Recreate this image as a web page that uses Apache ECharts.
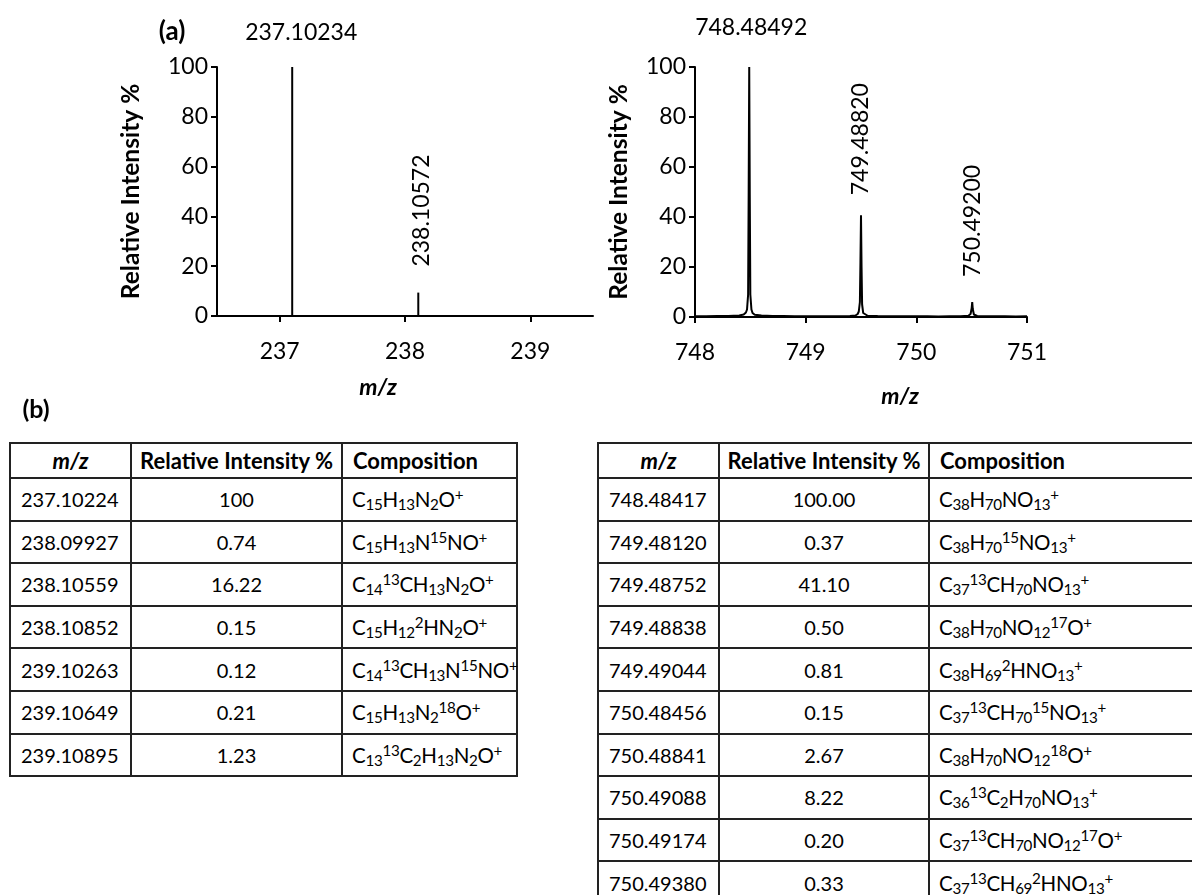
<!DOCTYPE html>
<html>
<head>
<meta charset="utf-8">
<script src="https://cdn.jsdelivr.net/npm/echarts@6/dist/echarts.min.js"></script>
<style>
  html, body { margin: 0; padding: 0; background: #fff; width: 1192px; height: 895px; overflow: hidden; font-family: Lato, sans-serif; }
  #chart { position: absolute; left: 0; top: 0; width: 1192px; height: 430px; }
  table.iso { position: absolute; top: 442px; border-collapse: collapse; table-layout: fixed; font-size: 20px; color: #000; }
  table.iso td, table.iso th { border: 2px solid #222; padding: 0 0 0 10px; white-space: nowrap; overflow: visible; text-align: left; }
  table.iso th { font-size: 22px; }
  table.iso td.c3 { font-size: 20.5px; padding-left: 9px; letter-spacing: -0.3px; }
  table.iso .c2 { text-align: center; padding: 0; }
  table.iso th.c1 { text-align: center; padding: 0; }
  table.iso tr.h { height: 35px; }
  table.iso tr.d { height: 42.6px; }
  table.iso sub { font-size: 0.74em; vertical-align: -0.2em; line-height: 0; }
  table.iso sup { font-size: 0.74em; vertical-align: 0.45em; line-height: 0; }
  #t1 { left: 9px; width: 507px; }
  #t2 { left: 597px; width: 620px; }
</style>
</head>
<body>
<div id="chart"></div>
<table id="t1" class="iso"><colgroup><col style="width:121px"><col style="width:211px"><col style="width:175px"></colgroup><tbody></tbody></table>
<table id="t2" class="iso"><colgroup><col style="width:121px"><col style="width:210px"><col style="width:289px"></colgroup><tbody></tbody></table>
<script>
// (a) 左：棒状谱
var leftTicks = [237, 238, 239]
var leftPeakMz = [237.10, 238.106]
var leftPeakInt = [100, 9.4]
var leftPeakLabel = ['237.10234', '238.10572']

// (a) 右：轮廓谱
var rightProfileMz = [748.00, 748.10, 748.20, 748.30, 748.40, 748.44, 748.46, 748.47, 748.48, 748.485,
  748.49, 748.495, 748.50, 748.51, 748.52, 748.54, 748.60, 748.70, 748.80, 748.90,
  749.00, 749.10, 749.20, 749.30, 749.40, 749.45, 749.47, 749.48, 749.49, 749.495,
  749.50, 749.505, 749.51, 749.52, 749.53, 749.56, 749.65, 749.80, 749.90, 750.00,
  750.10, 750.20, 750.30, 750.40, 750.47, 750.49, 750.50, 750.505, 750.51, 750.52,
  750.55, 750.65, 750.80, 750.90, 751.00]
var rightProfileInt = [0.3, 0.3, 0.4, 0.4, 0.6, 1.0, 1.8, 3.0, 9, 50,
  100, 48, 9, 3.0, 1.6, 0.9, 0.6, 0.4, 0.4, 0.3,
  0.3, 0.3, 0.3, 0.3, 0.4, 0.6, 1.2, 2.2, 6, 22,
  40.7, 20, 5, 1.6, 0.9, 0.5, 0.4, 0.3, 0.3, 0.3,
  0.3, 0.2, 0.3, 0.3, 0.5, 1.2, 3.5, 6, 3.2, 1.0,
  0.4, 0.3, 0.3, 0.2, 0.3]
var rightPeakMz = [748.49, 749.50, 750.505]
var rightPeakInt = [100, 40.7, 6]
var rightPeakLabel = ['748.48492', '749.48820', '750.49200']

// (b) 表格
var leftTableMz = ['237.10224', '238.09927', '238.10559', '238.10852', '239.10263', '239.10649', '239.10895']
var leftTableRel = ['100', '0.74', '16.22', '0.15', '0.12', '0.21', '1.23']
var leftTableComp = ['C_15H_13N_2O^+', 'C_15H_13N^15NO^+', 'C_14^13CH_13N_2O^+', 'C_15H_12^2HN_2O^+',
  'C_14^13CH_13N^15NO^+', 'C_15H_13N_2^18O^+', 'C_13^13C_2H_13N_2O^+']
var rightTableMz = ['748.48417', '749.48120', '749.48752', '749.48838', '749.49044', '750.48456',
  '750.48841', '750.49088', '750.49174', '750.49380']
var rightTableRel = ['100.00', '0.37', '41.10', '0.50', '0.81', '0.15', '2.67', '8.22', '0.20', '0.33']
var rightTableComp = ['C_38H_70NO_13^+', 'C_38H_70^15NO_13^+', 'C_37^13CH_70NO_13^+', 'C_38H_70NO_12^17O^+',
  'C_38H_69^2HNO_13^+', 'C_37^13CH_70^15NO_13^+', 'C_38H_70NO_12^18O^+', 'C_36^13C_2H_70NO_13^+',
  'C_37^13CH_70NO_12^17O^+', 'C_37^13CH_69^2HNO_13^+']

var font = 'Lato'
var black = '#000'

function axisX(idx, extra) {
  var ax = {
    gridIndex: idx,
    type: 'value',
    splitLine: { show: false },
    axisLine: { onZero: false, lineStyle: { color: black, width: 2 } },
    axisTick: { length: 6, lineStyle: { color: black, width: 2 } },
    axisLabel: { margin: 24, fontFamily: font, fontSize: 23, color: black },
    name: 'm/z',
    nameLocation: 'middle',
    nameTextStyle: { fontFamily: font, fontSize: 23, fontWeight: 'bold', fontStyle: 'italic', color: black }
  }
  return Object.assign(ax, extra)
}

function axisY(idx, gap) {
  return {
    gridIndex: idx,
    type: 'value',
    min: 0,
    max: 100,
    interval: 20,
    splitLine: { show: false },
    axisLine: { show: true, lineStyle: { color: black, width: 2 } },
    axisTick: { show: true, length: 6, lineStyle: { color: black, width: 2 } },
    axisLabel: { margin: 9, fontFamily: font, fontSize: 23, color: black },
    name: 'Relative Intensity %',
    nameLocation: 'middle',
    nameGap: gap,
    nameTextStyle: { fontFamily: font, fontSize: 24.5, fontWeight: 'bold', color: black }
  }
}

var xLeft = axisX(0, { min: 236.5, max: 239.5, nameGap: 60 })
xLeft.axisTick.customValues = leftTicks
xLeft.axisLabel.customValues = leftTicks
xLeft.nameTextStyle.padding = [0, 54, 0, 0]
var xRight = axisX(1, { min: 748, max: 751, interval: 1, nameGap: 68 })
xRight.nameTextStyle.padding = [0, 0, 0, 78]

var leftBars = leftPeakMz.map(function (x, i) {
  var lab = i === 0
    ? { show: true, position: 'top', distance: 23, offset: [9, 0] }
    : { show: true, position: 'top', rotate: 90, align: 'left', verticalAlign: 'middle', distance: 26, offset: [0, 3] }
  lab.formatter = leftPeakLabel[i]
  return { value: [x, leftPeakInt[i]], label: lab }
})

var rightLabels = rightPeakMz.map(function (x, i) {
  var lab = i === 0
    ? { show: true, position: 'top', distance: 28, offset: [2, 0] }
    : { show: true, position: 'top', rotate: 90, align: 'left', verticalAlign: 'middle', distance: i === 1 ? 20 : 25 }
  lab.formatter = rightPeakLabel[i]
  return { value: [x, rightPeakInt[i]], label: lab }
})

var option = {
  animation: false,
  textStyle: { fontFamily: font },
  graphic: [
    { type: 'text', x: 172, y: 32, style: { text: '(a)', font: 'bold 26px Lato', fill: black, align: 'center', verticalAlign: 'middle', textAlign: 'center', textVerticalAlign: 'middle' } },
    { type: 'text', x: 36, y: 410, style: { text: '(b)', font: 'bold 25px Lato', fill: black, align: 'center', verticalAlign: 'middle', textAlign: 'center', textVerticalAlign: 'middle' } }
  ],
  grid: [
    { left: 217, top: 67, width: 376, height: 249 },
    { left: 695, top: 67, width: 332, height: 250 }
  ],
  xAxis: [xLeft, xRight],
  yAxis: [axisY(0, 73), axisY(1, 63)],
  series: [
    {
      type: 'bar',
      xAxisIndex: 0,
      yAxisIndex: 0,
      barWidth: 2,
      itemStyle: { color: black },
      label: { fontFamily: font, fontSize: 23, color: black },
      data: leftBars
    },
    {
      type: 'line',
      xAxisIndex: 1,
      yAxisIndex: 1,
      showSymbol: false,
      symbol: 'none',
      lineStyle: { color: black, width: 2 },
      data: rightProfileMz.map(function (x, i) { return [x, rightProfileInt[i]] })
    },
    {
      type: 'scatter',
      xAxisIndex: 1,
      yAxisIndex: 1,
      symbolSize: 0,
      itemStyle: { color: black, opacity: 1 },
      label: { fontFamily: font, fontSize: 23, color: black },
      data: rightLabels
    }
  ]
}

var chart = echarts.init(document.getElementById('chart'))
chart.setOption(option)

// 表格
function formula(s) {
  return s.replace(/_(\d+)/g, '<sub>$1</sub>').replace(/\^(\d+|\+)/g, '<sup>$1</sup>')
}

function buildTable(id, mz, rel, comp) {
  var html = '<tr class="h"><th class="c1"><i>m/z</i></th><th class="c2">Relative Intensity %</th><th class="c3">Composition</th></tr>'
  for (var i = 0; i < mz.length; i++) {
    html += '<tr class="d"><td class="c1">' + mz[i] + '</td><td class="c2">' + rel[i] + '</td><td class="c3">' + formula(comp[i]) + '</td></tr>'
  }
  document.querySelector('#' + id + ' tbody').innerHTML = html
}

buildTable('t1', leftTableMz, leftTableRel, leftTableComp)
buildTable('t2', rightTableMz, rightTableRel, rightTableComp)
</script>
</body>
</html>
